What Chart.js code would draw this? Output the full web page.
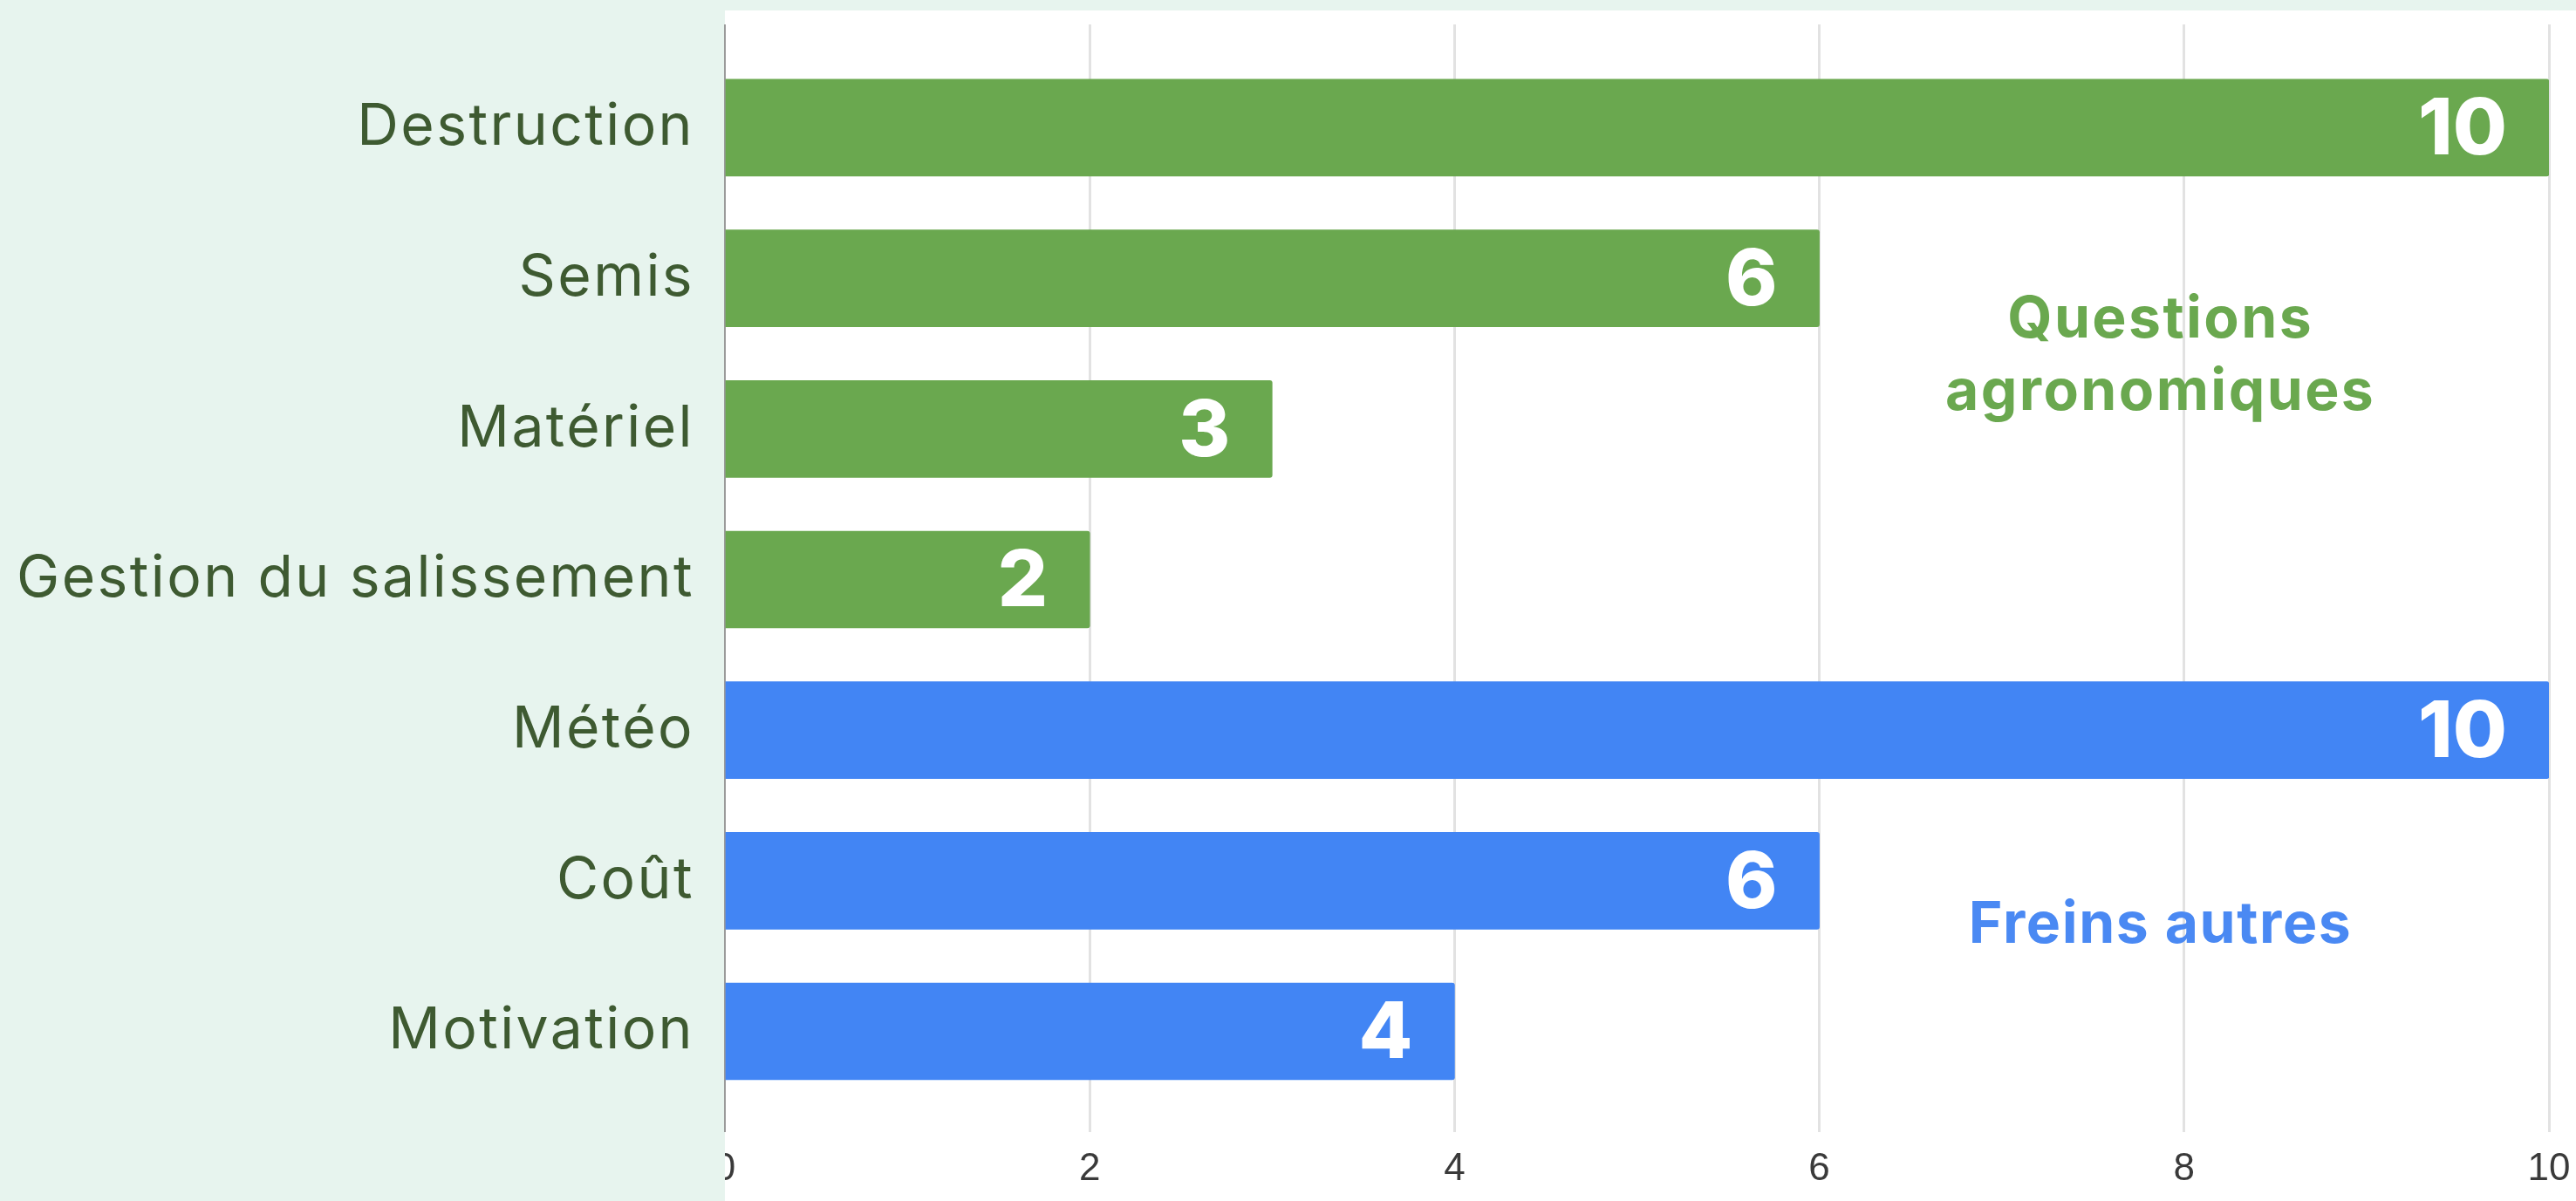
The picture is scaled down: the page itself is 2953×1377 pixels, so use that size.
<!DOCTYPE html>
<html lang="fr">
<head>
<meta charset="utf-8">
<title>Freins</title>
<script src="https://cdn.jsdelivr.net/npm/chart.js@4.4.1/dist/chart.umd.min.js"></script>
<style>
  html, body { margin: 0; padding: 0; background: #e7f4ee; }
  canvas { display: block; }
</style>
</head>
<body>
<canvas id="chart" width="2953" height="1377"></canvas>
<script>
// Categories, counts and the group each category belongs to
const categories = ['Destruction', 'Semis', 'Matériel', 'Gestion du salissement', 'Météo', 'Coût', 'Motivation'];
const values = [10, 6, 3, 2, 10, 6, 4];
const groups = ['agro', 'agro', 'agro', 'agro', 'autres', 'autres', 'autres'];
const xTicks = [0, 2, 4, 6, 8, 10];

// Group headings and colours
const groupTitles = { agro: ['Questions', 'agronomiques'], autres: ['Freins autres'] };
const groupBarColors = { agro: '#6aa84f', autres: '#4285f4' };
const groupTextColors = { agro: '#6aa84f', autres: '#4a89f3' };

const PAGE_BG = '#e7f4ee';
const LABEL_COLOR = '#3e5a31';

// Category axis range (index units), leaving room above the first bar and below the last
const Y_MIN = -0.686;
const Y_MAX = 6.669;

// White plot panel behind the bars, and the mint margin to its left
const panelPlugin = {
  id: 'panel',
  beforeDraw(chart) {
    const { ctx, chartArea, width, height } = chart;
    ctx.save();
    ctx.fillStyle = '#ffffff';
    ctx.fillRect(chartArea.left, 12, width - chartArea.left, height - 12);
    ctx.restore();
  },
  afterDraw(chart) {
    const { ctx, chartArea, height } = chart;
    ctx.save();
    ctx.fillStyle = PAGE_BG;
    ctx.fillRect(0, chartArea.bottom + 2, chartArea.left, height - chartArea.bottom);
    ctx.restore();
  }
};

// Count printed inside the end of each bar
const valueLabelPlugin = {
  id: 'valueLabels',
  afterDatasetsDraw(chart) {
    const { ctx } = chart;
    const meta = chart.getDatasetMeta(0);
    ctx.save();
    ctx.font = '800 90px Inter';
    ctx.fillStyle = '#ffffff';
    ctx.textAlign = 'right';
    ctx.textBaseline = 'alphabetic';
    meta.data.forEach((bar, i) => {
      ctx.fillText(String(values[i]), bar.x - 48, bar.y + 31);
    });
    ctx.restore();
  }
};

// Group headings placed in data space next to their bars
const groupHeadingPlugin = {
  id: 'groupHeadings',
  afterDatasetsDraw(chart, args, opts) {
    const { ctx, scales } = chart;
    ctx.save();
    ctx.font = '700 66px Inter';
    ctx.textAlign = 'center';
    ctx.textBaseline = 'middle';
    opts.items.forEach(item => {
      const x = scales.x.getPixelForValue(item.x);
      ctx.fillStyle = groupTextColors[item.group];
      ctx.letterSpacing = item.spacing;
      groupTitles[item.group].forEach((line, k) => {
        const y = scales.y.getPixelForValue(item.y + k * item.step);
        ctx.fillText(line, x, y);
      });
    });
    ctx.restore();
  }
};

const points = values.map((v, i) => ({ x: v, y: i }));

new Chart(document.getElementById('chart'), {
  type: 'bar',
  data: {
    datasets: [{
      data: points,
      backgroundColor: groups.map(g => groupBarColors[g]),
      borderWidth: 0,
      borderRadius: 3,
      borderSkipped: 'start',
      barThickness: 111
    }]
  },
  options: {
    indexAxis: 'y',
    responsive: false,
    animation: false,
    devicePixelRatio: 1,
    layout: { padding: { top: 28, right: 31, bottom: 0, left: 0 } },
    plugins: {
      legend: { display: false },
      tooltip: { enabled: false },
      groupHeadings: {
        items: [
          { group: 'agro', x: 7.87, y: 1.28, step: 0.48, spacing: '2.4px' },
          { group: 'autres', x: 7.87, y: 5.30, step: 0.5, spacing: '1.6px' }
        ]
      }
    },
    scales: {
      x: {
        type: 'linear',
        min: 0,
        max: 10,
        offset: false,
        afterBuildTicks(scale) { scale.ticks = xTicks.map(v => ({ value: v })); },
        afterFit(scale) {
          scale.height = 79;
          scale.paddingLeft = 0;
          scale.paddingRight = 0;
        },
        grid: {
          drawTicks: false,
          color: ctx => (ctx.tick && ctx.tick.value === 0 ? '#9a9a9a' : '#e2e2e2'),
          lineWidth: ctx => (ctx.tick && ctx.tick.value === 0 ? 2 : 3)
        },
        border: { display: false },
        ticks: {
          padding: 16,
          color: '#3a3a3a',
          font: { family: '"Liberation Sans", Arial, sans-serif', size: 44 }
        }
      },
      y: {
        type: 'linear',
        reverse: true,
        offset: false,
        min: Y_MIN,
        max: Y_MAX,
        afterDataLimits(scale) { scale.min = Y_MIN; scale.max = Y_MAX; },
        afterBuildTicks(scale) {
          scale.min = Y_MIN;
          scale.max = Y_MAX;
          scale.ticks = categories.map((c, i) => ({ value: i }));
        },
        afterFit(scale) {
          scale.width = 831;
          scale.paddingTop = 0;
          scale.paddingBottom = 0;
        },
        afterUpdate(scale) {
          // slightly open letter spacing for the category names
          const drawLabels = scale.drawLabels;
          if (!scale._spaced) {
            scale._spaced = true;
            scale.drawLabels = function (area) {
              this.ctx.save();
              this.ctx.letterSpacing = '2.4px';
              drawLabels.call(this, area);
              this.ctx.restore();
            };
          }
        },
        grid: { display: false, drawTicks: false },
        border: { display: false },
        ticks: {
          padding: 35,
          color: LABEL_COLOR,
          font: { family: 'Inter', size: 66 },
          callback: (v) => categories[v]
        }
      }
    }
  },
  plugins: [panelPlugin, valueLabelPlugin, groupHeadingPlugin]
});
</script>
</body>
</html>
